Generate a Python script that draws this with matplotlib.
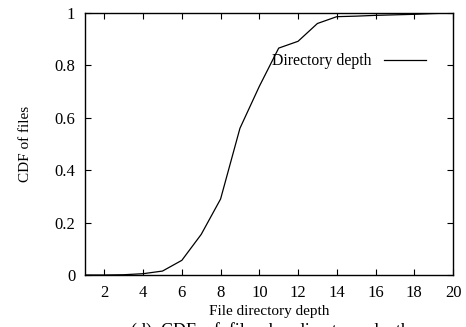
import matplotlib
matplotlib.use("Agg")
import matplotlib.pyplot as plt

# CDF of files by directory depth
depth = [1, 2, 3, 4, 5, 6, 7, 8, 9, 10, 11, 12, 13, 14, 15, 16, 17, 18, 19, 20]
cdf = [0.0, 0.0, 0.001, 0.005, 0.015, 0.056, 0.155, 0.29, 0.56, 0.72,
       0.866, 0.892, 0.96, 0.986, 0.988, 0.991, 0.993, 0.995, 0.998, 1.0]
xticks = [2, 4, 6, 8, 10, 12, 14, 16, 18, 20]
yticks = [0, 0.2, 0.4, 0.6, 0.8, 1]
ylabels = ["0", "0.2", "0.4", "0.6", "0.8", "1"]

plt.rcParams['font.family'] = ['Liberation Serif', 'DejaVu Serif']

fig = plt.figure(figsize=(4.66, 3.27), dpi=100)
ax = fig.add_axes([85/466, 1 - 275/327, (453 - 85)/466, (275 - 13)/327])

ax.plot(depth, cdf, color='k', lw=0.9, label='Directory depth')

ax.set_xlim(1, 20)
ax.set_ylim(0, 1)
ax.set_xticks(xticks)
ax.set_yticks(yticks)
ax.set_yticklabels(ylabels)
ax.tick_params(direction='in', top=True, right=True, length=4, width=0.8,
               labelsize=12, pad=7)
for s in ax.spines.values():
    s.set_linewidth(1.0)

ax.set_xlabel('File directory depth', fontsize=11, labelpad=3)
ax.set_ylabel('CDF of files', fontsize=11, labelpad=16)

ax.legend(loc='center right', bbox_to_anchor=(426/466, 1 - 61/327),
          bbox_transform=fig.transFigure, frameon=False, markerfirst=False,
          handlelength=2.7, handletextpad=0.8, fontsize=11.3,
          borderpad=0, borderaxespad=0)

fig.text(270/466, 1 - 322.5/327, '(d)  CDF  of  files  by  directory  depth',
         ha='center', va='top', fontsize=13)

fig.savefig('out.png', dpi=100)
